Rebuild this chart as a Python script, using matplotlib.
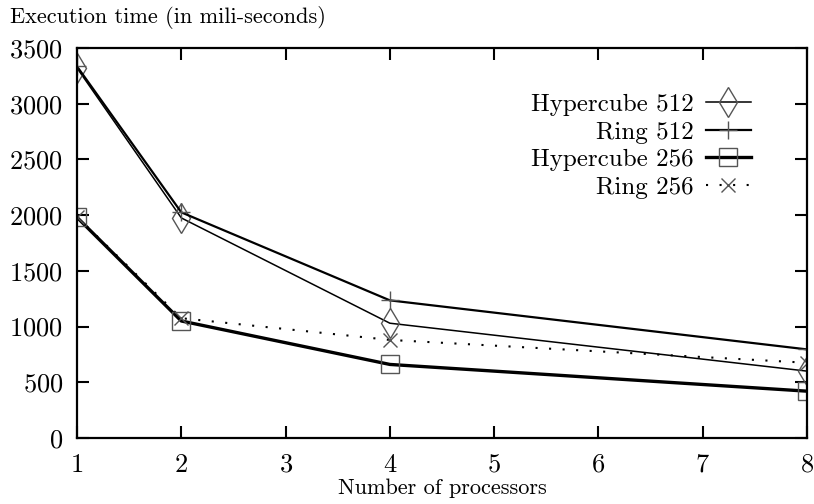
import matplotlib
matplotlib.use("Agg")
import matplotlib.pyplot as plt

plt.rcParams['font.family'] = ['cmr10', 'DejaVu Serif']
plt.rcParams['axes.formatter.use_mathtext'] = True

processors = [1, 2, 4, 8]
hypercube_512 = [3320, 1975, 1030, 600]
ring_512 = [3335, 2025, 1235, 795]
hypercube_256 = [1980, 1050, 660, 420]
ring_256 = [1985, 1075, 880, 675]

fig = plt.figure(figsize=(8.14, 5.04), dpi=100)
ax = fig.add_axes([0.0946, 0.131, 0.8968, 0.7738])

mk = dict(markerfacecolor='none', markeredgecolor='#555555', markeredgewidth=1.0)
ax.plot(processors, hypercube_512, color='black', lw=1.1, marker='d', markersize=15,
        label='Hypercube 512', **mk)
ax.plot(processors, ring_512, color='black', lw=1.6, marker='+', markersize=12.5,
        label='Ring 512', **mk)
ax.plot(processors, hypercube_256, color='black', lw=2.4, marker='s', markersize=12.5,
        label='Hypercube 256', **mk)
ax.plot(processors, ring_256, color='black', lw=1.5, ls=(0, (1, 5.5)), marker='x',
        markersize=9.5, label='Ring 256', **mk)

ax.set_xlim(1, 8)
ax.set_ylim(0, 3500)
ax.set_xticks(range(1, 9))
ax.set_yticks(range(0, 3501, 500))
ax.tick_params(direction='in', length=8.5, width=1.5, top=True, right=True,
               labelsize=19)
ax.tick_params(axis='x', pad=11)
ax.tick_params(axis='y', pad=10)
for s in ax.spines.values():
    s.set_linewidth(1.6)

ax.set_xlabel('Number of processors', fontsize=16, labelpad=1)
fig.text(10 / 814, 1 - 6 / 504, 'Execution time (in mili-seconds)', fontsize=16,
         ha='left', va='top')

leg = ax.legend(loc='upper right', bbox_to_anchor=(0.94, 0.915), frameon=False,
                markerfirst=False, fontsize=18, handlelength=1.8,
                labelspacing=0.2, handletextpad=0.48, borderpad=0)
for t in leg.get_texts():
    t.set_ha('right')

plt.savefig('out.png', dpi=100)
